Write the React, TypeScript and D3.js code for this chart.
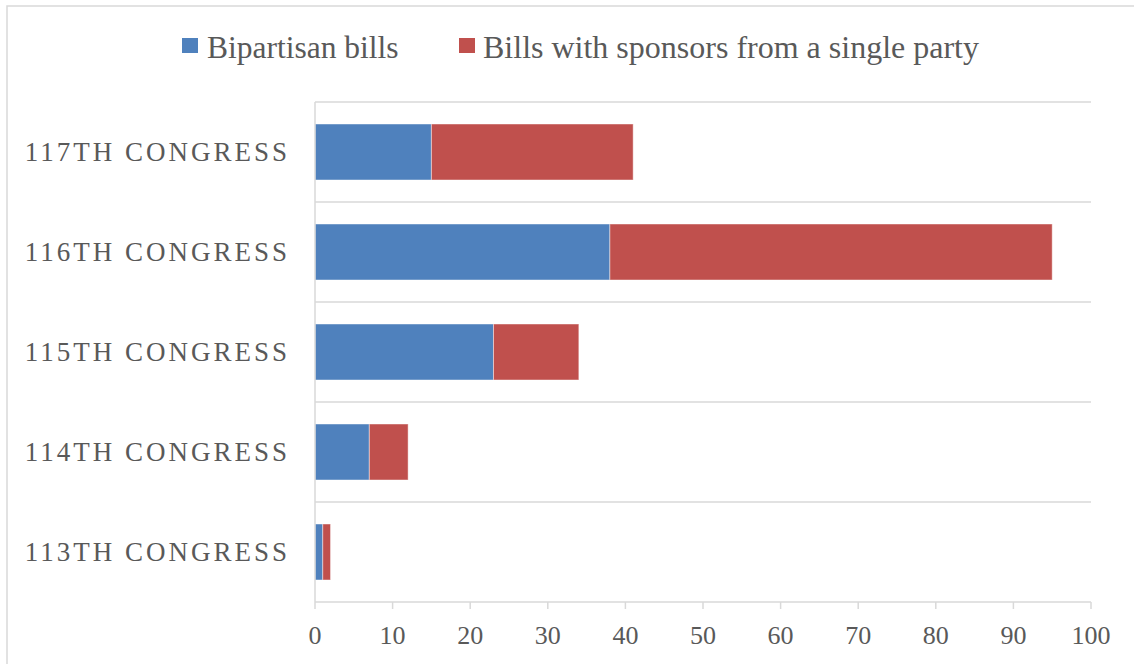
import React from "react";
import * as d3 from "d3";

const categories = ["117th Congress", "116th Congress", "115th Congress", "114th Congress", "113th Congress"];
const bipartisan = [15, 38, 23, 7, 1];
const singleParty = [26, 57, 11, 5, 1];
const xTicks = [0, 10, 20, 30, 40, 50, 60, 70, 80, 90, 100];
const seriesNames = ["Bipartisan bills", "Bills with sponsors from a single party"];
const colors = ["#4F81BD", "#C0504D"];

const W = 1134;
const H = 664;
const left = 315;
const right = 1091;
const top = 102;
const bottom = 602;
const textColor = "#595959";
const grid = "#d9d9d9";
const font = "'Liberation Serif', 'Times New Roman', serif";

export default function App() {
  const x = d3.scaleLinear().domain([0, 100]).range([left, right]);
  const y = d3.scaleBand<string>().domain(categories).range([top, bottom]).paddingInner(0.44).paddingOuter(0.22);
  const rows = categories.map((c, i) => ({ c, a: bipartisan[i], b: singleParty[i] }));
  const boundaries = d3.range(categories.length + 1).map((i) => top + (i * (bottom - top)) / categories.length);

  return (
    <svg width={W} height={H} style={{ position: "absolute", left: 0, top: 0, background: "#fff" }} fontFamily={font}>
      <rect x={7} y={6} width={W + 20} height={H + 20} fill="#fff" stroke={grid} strokeWidth={1.5} />
      {/* legend */}
      <g>
        <rect x={182} y={38} width={16} height={15} fill={colors[0]} />
        <text x={207} y={58} fontSize={31.5} fill={textColor}>{seriesNames[0]}</text>
        <rect x={459} y={38} width={16} height={15} fill={colors[1]} />
        <text x={483} y={58} fontSize={32} fill={textColor}>{seriesNames[1]}</text>
      </g>
      {/* gridlines */}
      {boundaries.slice(0, -1).map((b, i) => (
        <line key={i} x1={left} x2={right} y1={b} y2={b} stroke={grid} strokeWidth={1.5} />
      ))}
      {/* bars */}
      {rows.map((r) => (
        <g key={r.c}>
          <rect x={x(0)} y={y(r.c)!} width={x(r.a) - x(0)} height={y.bandwidth()} fill={colors[0]} stroke="rgba(255,255,255,0.45)" strokeWidth={1} />
          <rect x={x(r.a)} y={y(r.c)!} width={x(r.a + r.b) - x(r.a)} height={y.bandwidth()} fill={colors[1]} stroke="rgba(255,255,255,0.45)" strokeWidth={1} />
        </g>
      ))}
      {/* axes */}
      <line x1={left} x2={left} y1={top} y2={bottom} stroke={grid} strokeWidth={1.5} />
      <line x1={left} x2={right} y1={bottom} y2={bottom} stroke={grid} strokeWidth={1.5} />
      {xTicks.map((t) => (
        <g key={t}>
          <line x1={x(t)} x2={x(t)} y1={bottom} y2={bottom + 7} stroke={grid} strokeWidth={1.5} />
          <text x={x(t)} y={644} textAnchor="middle" fontSize={26} fill={textColor}>{t}</text>
        </g>
      ))}
      {categories.map((c) => (
        <text key={c} x={290} y={y(c)! + y.bandwidth() / 2 + 9} textAnchor="end" fontSize={27} letterSpacing={3} fill={textColor}>
          {c.toUpperCase()}
        </text>
      ))}
    </svg>
  );
}
